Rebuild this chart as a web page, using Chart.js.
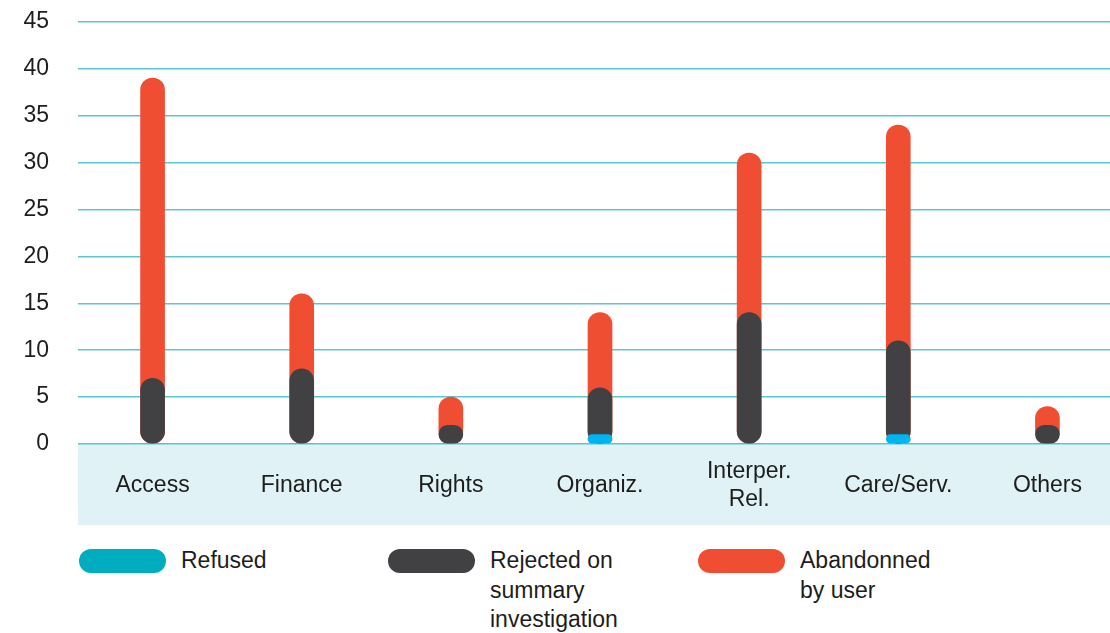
<!DOCTYPE html>
<html lang="en">
<head>
    <meta charset="UTF-8">
    <title>Closed complaints by category</title>
    <script src="https://cdn.jsdelivr.net/npm/chart.js"></script>
    <style>
        body {
            margin: 0;
            background: #fff;
            overflow: hidden;
            font-family: "Liberation Sans", Arial, sans-serif;
        }
        .chart-box {
            position: relative;
            width: 1122px;
            height: 546px;
            margin-top: -21px;
        }
        .legend {
            position: absolute;
            top: 546px;
            left: 0;
            width: 1110px;
        }
        .legend-item {
            position: absolute;
            top: 0;
        }
        .legend-pill {
            position: absolute;
            left: 0;
            top: 3px;
            width: 87px;
            height: 24px;
            border-radius: 12px;
        }
        .legend-text {
            position: absolute;
            left: 102px;
            top: 0;
            font-size: 23px;
            line-height: 29.5px;
            color: #1d1d1b;
            white-space: nowrap;
        }
    </style>
</head>
<body>
    <div class="chart-box">
        <canvas id="casesChart"></canvas>
    </div>
    <div class="legend" id="legend"></div>

    <script>
        const categories = ['Access', 'Finance', 'Rights', 'Organiz.', ['Interper.', 'Rel.'], 'Care/Serv.', 'Others'];
        const refused   = [0, 0, 0, 1, 0, 1, 0];
        const rejected  = [7, 8, 2, 5, 14, 10, 2];
        const abandoned = [32, 8, 3, 8, 17, 23, 2];
        const yTicks = [0, 5, 10, 15, 20, 25, 30, 35, 40, 45];

        const seriesNames = [['Refused'], ['Rejected on', 'summary', 'investigation'], ['Abandonned', 'by user']];
        const barColors = ['#00b5ef', '#414042', '#f04e33'];
        const legendColors = ['#00adbf', '#414042', '#f04e33'];

        // each pill runs from zero to the running total, later series sit behind
        const upToRejected = refused.map((v, i) => v + rejected[i]);
        const upToAbandoned = upToRejected.map((v, i) => v + abandoned[i]);
        const pillData = [refused, upToRejected, upToAbandoned];

        const font = { family: '"Liberation Sans", Arial, sans-serif', size: 23 };

        // light band behind the category labels
        const bandPlugin = {
            id: 'band',
            beforeDraw(chart) {
                const { ctx, chartArea } = chart;
                ctx.save();
                ctx.fillStyle = '#e0f2f5';
                ctx.fillRect(chartArea.left, chartArea.bottom, chartArea.right - chartArea.left, 81);
                ctx.restore();
            }
        };

        new Chart(document.getElementById('casesChart'), {
            type: 'bar',
            data: {
                labels: categories,
                datasets: pillData.map((data, i) => ({
                    label: seriesNames[i].join(' '),
                    data: data,
                    backgroundColor: barColors[i],
                    borderRadius: 12,
                    borderSkipped: false,
                    barThickness: 24,
                    grouped: false
                }))
            },
            options: {
                responsive: true,
                maintainAspectRatio: false,
                animation: false,
                layout: { padding: 0 },
                plugins: {
                    legend: { display: false },
                    tooltip: { enabled: false }
                },
                scales: {
                    x: {
                        grid: { display: false },
                        border: { display: false },
                        ticks: {
                            color: '#1d1d1b',
                            font: { ...font, lineHeight: 28 / 23 },
                            crossAlign: 'center',
                            maxRotation: 0,
                            autoSkip: false,
                            padding: 20
                        },
                        afterFit(scale) { scale.height = 81; }
                    },
                    y: {
                        min: 0,
                        max: 45,
                        afterBuildTicks(scale) { scale.ticks = yTicks.map(v => ({ value: v })); },
                        grid: { color: '#5ec6cf', lineWidth: 1.5, drawTicks: false },
                        border: { display: false },
                        ticks: { color: '#1d1d1b', font: font, padding: 29 },
                        afterFit(scale) { scale.width = 78; }
                    }
                }
            },
            plugins: [bandPlugin]
        });

        // legend underneath the plot
        const legend = document.getElementById('legend');
        const legendLeft = [79, 388, 698];
        seriesNames.forEach((lines, i) => {
            const item = document.createElement('div');
            item.className = 'legend-item';
            item.style.left = legendLeft[i] + 'px';
            item.innerHTML = `<div class="legend-pill" style="background:${legendColors[i]}"></div>` +
                `<div class="legend-text">${lines.join('<br>')}</div>`;
            legend.appendChild(item);
        });
    </script>
</body>
</html>
